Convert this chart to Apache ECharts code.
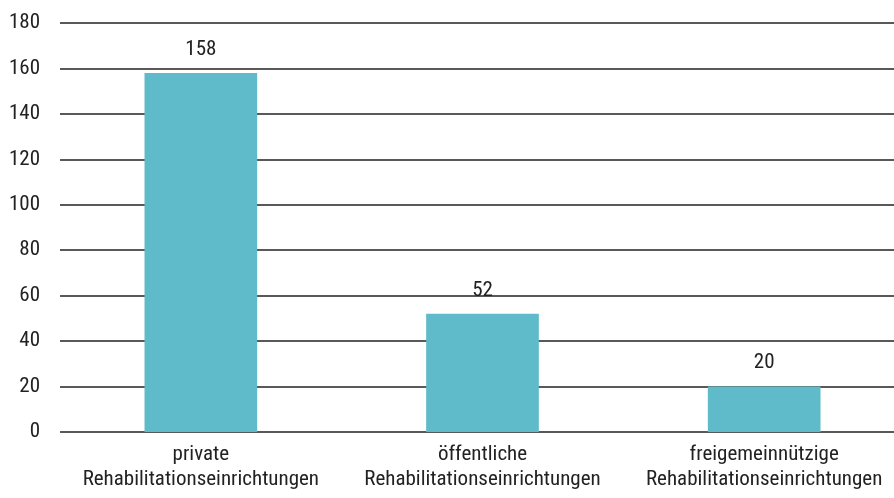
<!DOCTYPE html>
<html>
<head>
<meta charset="utf-8">
<script src="https://cdn.jsdelivr.net/npm/echarts@6/dist/echarts.min.js"></script>
<style>
  html, body { margin: 0; padding: 0; background: #fff; }
  #chart { width: 894px; height: 498px; }
</style>
</head>
<body>
<div id="chart"></div>
<script>
const categories = [
  "private\nRehabilitationseinrichtungen",
  "öffentliche\nRehabilitationseinrichtungen",
  "freigemeinnützige\nRehabilitationseinrichtungen"
];
const values = [158, 52, 20];

const font = "'Roboto Condensed', 'Liberation Sans Narrow', 'Liberation Sans', sans-serif";

const chart = echarts.init(document.getElementById("chart"));
chart.setOption({
  animation: false,
  grid: { left: 60, width: 845, top: 23, bottom: 66, outerBoundsMode: "none" },
  xAxis: {
    type: "category",
    data: categories,
    axisLine: { show: false },
    axisTick: { show: false },
    axisLabel: {
      color: "#222",
      fontFamily: font,
      fontSize: 21,
      lineHeight: 25,
      margin: 10,
      interval: 0
    }
  },
  yAxis: {
    type: "value",
    min: 0,
    max: 180,
    interval: 20,
    axisLine: { show: false },
    axisTick: { show: false },
    axisLabel: { color: "#222", fontFamily: font, fontSize: 21, margin: 20 },
    splitLine: { lineStyle: { color: "#222", width: 1.5 } }
  },
  series: [{
    type: "bar",
    data: values,
    barWidth: "40%",
    itemStyle: { color: "#5FBBC9" },
    label: {
      show: true,
      position: "top",
      distance: 13,
      color: "#222",
      fontFamily: font,
      fontSize: 21
    }
  }]
});
</script>
</body>
</html>
